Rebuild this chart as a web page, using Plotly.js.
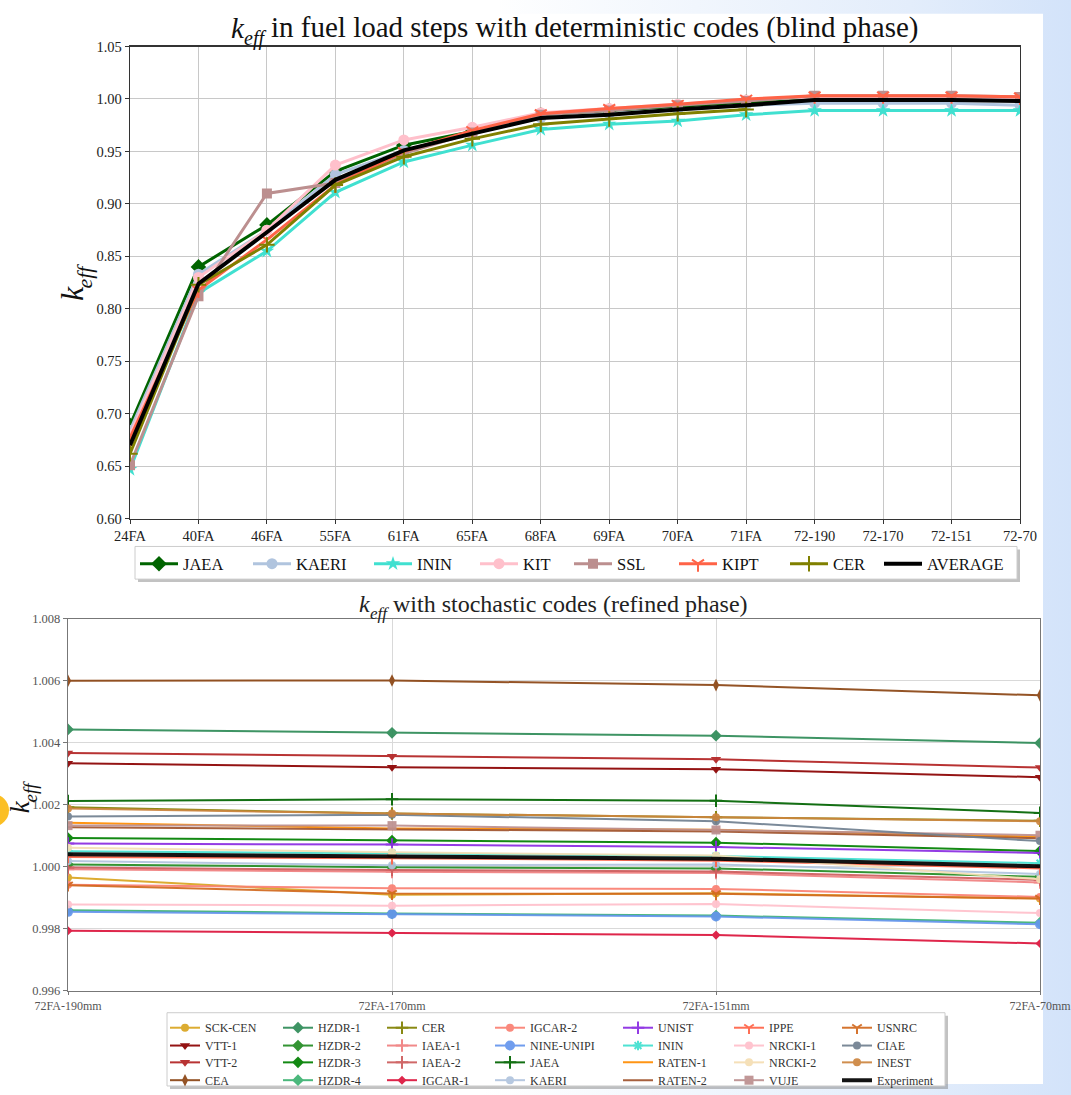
<!DOCTYPE html>
<html><head><meta charset="utf-8">
<script src="https://cdn.plot.ly/plotly-3.0.1.min.js"></script>
<style>
html,body{margin:0;padding:0;}
body{width:1071px;height:1095px;overflow:hidden;background:linear-gradient(to right,#ffffff 0%,#ffffff 45%,#e3edfb 85%,#d3e3fa 100%);}
#chart{width:1071px;height:1095px;}
</style></head><body><div id="chart"></div><script>
// ---------- Deterministic (blind phase) ----------
const detSteps = ['24FA','40FA','46FA','55FA','61FA','65FA','68FA','69FA','70FA','71FA','72-190','72-170','72-151','72-70'];
const detJAEA  = [0.689,0.840,0.880,0.931,0.956,0.969,0.985,0.989,0.993,0.997,1.000,1.000,1.000,0.999];
const detKAERI = [0.684,0.833,0.875,0.928,0.951,0.967,0.982,0.986,0.990,0.994,0.996,0.996,0.996,0.994];
const detININ  = [0.647,0.815,0.855,0.911,0.940,0.956,0.971,0.976,0.979,0.985,0.989,0.989,0.989,0.989];
const detKIT   = [0.680,0.830,0.875,0.937,0.961,0.973,0.987,0.991,0.995,0.999,1.002,1.002,1.002,1.001];
const detSSL   = [0.651,0.812,0.910,0.920,0.948,0.968,0.985,0.989,0.994,0.998,1.003,1.003,1.003,1.002];
const detKIPT  = [0.677,0.818,0.866,0.918,0.950,0.970,0.986,0.991,0.995,1.000,1.003,1.003,1.003,1.002];
const detCER   = [0.662,0.823,0.861,0.918,0.945,0.962,0.976,0.981,0.986,0.990];
const detAVERAGE = [0.670,0.824,0.873,0.923,0.951,0.967,0.982,0.985,0.990,0.994,0.999,0.999,0.999,0.998];

// ---------- Stochastic (refined phase) ----------
const stoSteps = ['72FA-190mm','72FA-170mm','72FA-151mm','72FA-70mm'];
const stoSCKCEN = [0.99966,0.99910,0.99915,0.99898];
const stoVTT1   = [1.00334,1.00321,1.00315,1.00289];
const stoVTT2   = [1.00367,1.00357,1.00347,1.00320];
const stoCEA    = [1.00600,1.00601,1.00586,1.00553];
const stoHZDR1  = [1.00443,1.00432,1.00423,1.00399];
const stoHZDR2  = [1.00008,0.99999,0.99995,0.99968];
const stoHZDR3  = [1.00093,1.00085,1.00078,1.00051];
const stoHZDR4  = [0.99860,0.99850,0.99843,0.99820];
const stoCER    = [1.00192,1.00172,1.00160,1.00149];
const stoIAEA1  = [0.99992,0.99984,0.99980,0.99950];
const stoIAEA2  = [0.99998,0.99990,0.99985,0.99958];
const stoIGCAR1 = [0.99794,0.99787,0.99780,0.99753];
const stoIGCAR2 = [0.99942,0.99931,0.99929,0.99903];
const stoNINEUNIPI = [0.99855,0.99848,0.99840,0.99815];
const stoJAEA   = [1.00212,1.00218,1.00213,1.00174];
const stoKAERI  = [1.00019,1.00005,1.00008,0.99977];
const stoUNIST  = [1.00075,1.00072,1.00064,1.00045];
const stoININ   = [1.00050,1.00044,1.00035,1.00012];
const stoRATEN1 = [1.00142,1.00124,1.00120,1.00097];
const stoRATEN2 = [1.00128,1.00120,1.00114,1.00092];
const stoIPPE   = [1.00032,1.00028,1.00020,0.99995];
const stoNRCKI1 = [0.99879,0.99875,0.99880,0.99851];
const stoNRCKI2 = [1.00062,1.00047,1.00037,0.99960];
const stoVUJE   = [1.00133,1.00133,1.00119,1.00102];
const stoUSNRC  = [0.99941,0.99914,0.99913,0.99898];
const stoCIAE   = [1.00162,1.00168,1.00147,1.00083];
const stoINEST  = [1.00188,1.00172,1.00160,1.00147];
const stoExperiment = [1.00041,1.00033,1.00026,1.00002];

// ---------- helpers / styles ----------
const W = 1071, H = 1095;
const px = x => x / W, py = y => 1 - y / H;
const FONT = 'Liberation Serif, DejaVu Serif, serif';
const openSyms = ['cross-thin-open','y-down-open','asterisk-open'];

const cv = document.createElement('canvas').getContext('2d');
function tw(text, size, italic) {
  cv.font = (italic ? 'italic ' : '') + size + 'px "Liberation Serif"';
  return cv.measureText(text).width;
}
function ann(text, x, y, size, italic, color, xanchor, angle) {
  return {text: text, xref: 'paper', yref: 'paper', x: px(x), y: py(y),
    xanchor: xanchor || 'left', yanchor: 'middle', showarrow: false,
    borderpad: 0, borderwidth: 0, textangle: angle || 0,
    font: {family: FONT, size: size, color: color, style: italic ? 'italic' : 'normal'}};
}
// horizontal title "k_eff + rest" centred at (cx, cy)
function keffTitle(rest, size, cx, cy, color) {
  const sub = Math.round(size * 0.7);
  const wk = tw('k', size, true), we = tw('eff', sub, true), ws = tw(' ', size, false), wr = tw(rest, size, false);
  const x0 = cx - (wk + we + ws + wr) / 2;
  return [
    ann('k', x0, cy, size, true, color),
    ann('eff', x0 + wk, cy + 0.39 * size, sub, true, color),
    ann(rest, x0 + wk + we + ws, cy, size, false, color)
  ];
}
// vertical (rotated) "k_eff" centred at (cx, cy)
function keffVertical(size, cx, cy, color) {
  const sub = Math.round(size * 0.7);
  const wk = tw('k', size, true), we = tw('eff', sub, true);
  const L = wk + we;
  return [
    ann('k', cx, cy + L / 2 - wk / 2, size, true, color, 'center', -90),
    ann('eff', cx + 0.39 * size, cy + L / 2 - wk - we / 2, sub, true, color, 'center', -90)
  ];
}

function mk(name, xs, ys, color, symbol, size, lw, xa, ya, legend, extra) {
  const t = {
    type: 'scatter', name: name, x: xs.slice(0, ys.length), y: ys,
    xaxis: xa, yaxis: ya, legend: legend,
    mode: symbol ? 'lines+markers' : 'lines',
    line: {color: color, width: lw},
    hoverinfo: 'skip'
  };
  if (symbol) {
    const open = openSyms.indexOf(symbol) >= 0;
    t.marker = {symbol: symbol, size: size, color: color,
      line: {width: open ? 2 : 0, color: color}};
  }
  return Object.assign(t, extra || {});
}

const traces = [];
// top chart
const detDefs = [
  ['JAEA', detJAEA, '#006400', 'diamond', 12, 3, 60],
  ['KAERI', detKAERI, '#B0C4DE', 'circle', 11, 3, 68],
  ['ININ', detININ, '#40E0D0', 'star', 11, 3, 53],
  ['KIT', detKIT, '#FFC0CB', 'circle', 11, 3, 41],
  ['SSL', detSSL, '#BC8F8F', 'square', 10, 3, 52],
  ['KIPT', detKIPT, '#FF6347', 'y-down-open', 10, 3, 58],
  ['CER', detCER, '#808000', 'cross-thin-open', 11, 3, 41],
  ['AVERAGE', detAVERAGE, '#000000', null, 0, 4, 90]
];
detDefs.forEach(d => traces.push(mk(d[0], detSteps, d[1], d[2], d[3], d[4], d[5], 'x', 'y', 'legend', {legendwidth: d[6]})));

// bottom chart (legend columns, 4 rows each)
const stoDefs = [
  ['SCK-CEN', stoSCKCEN, '#DAA520', 'circle', 8],
  ['VTT-1', stoVTT1, '#8B0000', 'triangle-down', 9],
  ['VTT-2', stoVTT2, '#B22222', 'triangle-down', 9],
  ['CEA', stoCEA, '#8B4513', 'diamond-tall', 9],
  ['HZDR-1', stoHZDR1, '#2E8B57', 'diamond', 9],
  ['HZDR-2', stoHZDR2, '#228B22', 'diamond', 9],
  ['HZDR-3', stoHZDR3, '#008000', 'diamond', 9],
  ['HZDR-4', stoHZDR4, '#3CB371', 'diamond', 9],
  ['CER', stoCER, '#808000', 'cross-thin-open', 9],
  ['IAEA-1', stoIAEA1, '#F08080', 'cross-thin-open', 9],
  ['IAEA-2', stoIAEA2, '#CD5C5C', 'cross-thin-open', 9],
  ['IGCAR-1', stoIGCAR1, '#DC143C', 'diamond', 7],
  ['IGCAR-2', stoIGCAR2, '#FA8072', 'circle', 8],
  ['NINE-UNIPI', stoNINEUNIPI, '#6495ED', 'circle', 10],
  ['JAEA', stoJAEA, '#006400', 'cross-thin-open', 9],
  ['KAERI', stoKAERI, '#B0C4DE', 'circle', 8],
  ['UNIST', stoUNIST, '#8A2BE2', 'cross-thin-open', 9],
  ['ININ', stoININ, '#40E0D0', 'asterisk-open', 8],
  ['RATEN-1', stoRATEN1, '#FF8C00', null, 0],
  ['RATEN-2', stoRATEN2, '#A0522D', null, 0],
  ['IPPE', stoIPPE, '#FF6347', 'y-down-open', 8],
  ['NRCKI-1', stoNRCKI1, '#FFC0CB', 'circle', 8],
  ['NRCKI-2', stoNRCKI2, '#F5DEB3', 'circle', 8],
  ['VUJE', stoVUJE, '#BC8F8F', 'square', 9],
  ['USNRC', stoUSNRC, '#D2691E', 'y-down-open', 8],
  ['CIAE', stoCIAE, '#708090', 'circle', 8],
  ['INEST', stoINEST, '#CD853F', 'circle', 8],
  ['Experiment', stoExperiment, '#000000', null, 0]
];
const colWidths = [68, 59, 63, 83, 66, 63, 70];
const rowLegends = ['legend2','legend3','legend4','legend5'];
stoDefs.forEach((d, i) => {
  const row = i % 4, col = Math.floor(i / 4);
  const lw = d[0] === 'Experiment' ? 4 : 2;
  traces.push(mk(d[0], stoSteps, d[1], d[2], d[3], d[4], lw, 'x2', 'y2', rowLegends[row],
    {legendrank: col + 1, legendwidth: colWidths[col], opacity: 0.92}));
});

const tickFont = {family: FONT, size: 14.5, color: '#222'};
const smallTickX = {family: FONT, size: 12, color: '#555'};
const smallTickY = {family: FONT, size: 12.5, color: '#555'};

const rowTops = [1023.5, 1041.5, 1058.5, 1076.5];
const legendBase = {orientation: 'h', xanchor: 'left', yanchor: 'top', bgcolor: 'rgba(0,0,0,0)',
  borderwidth: 0, traceorder: 'normal', itemclick: false, itemdoubleclick: false};

const annotations = []
  .concat(keffTitle('in fuel load steps with deterministic codes (blind phase)', 29, 575, 28, '#111'))
  .concat(keffTitle('with stochastic codes (refined phase)', 24, 553, 610, '#222'))
  .concat(keffVertical(32, 72, 286, '#111'))
  .concat(keffVertical(27, 20, 806, '#111'));

const layout = {
  width: W, height: H,
  margin: {l: 0, r: 0, t: 0, b: 0},
  paper_bgcolor: 'rgba(0,0,0,0)',
  plot_bgcolor: '#ffffff',
  showlegend: true,
  font: {family: FONT, color: '#222'},
  xaxis: {domain: [px(130), px(1020)], anchor: 'y', type: 'category', range: [0, 13],
    showgrid: true, gridcolor: '#c8c8c8', gridwidth: 1, showline: true, mirror: true,
    linecolor: '#333', linewidth: 1.3, ticks: 'outside', ticklen: 4, tickcolor: '#333',
    tickfont: tickFont, zeroline: false, fixedrange: true},
  yaxis: {domain: [py(524), py(47)], anchor: 'x', range: [0.60, 1.05], dtick: 0.05, tickformat: '.2f',
    showgrid: true, gridcolor: '#c8c8c8', gridwidth: 1, showline: true, mirror: true,
    linecolor: '#333', linewidth: 1.3, ticks: 'outside', ticklen: 4, tickcolor: '#333',
    tickfont: tickFont, zeroline: false, fixedrange: true},
  xaxis2: {domain: [px(68), px(1040)], anchor: 'y2', type: 'category', range: [0, 3],
    showgrid: true, gridcolor: '#d9d9d9', gridwidth: 1, showline: true, mirror: true,
    linecolor: '#777', linewidth: 1.2, ticks: 'outside', ticklen: 3, tickcolor: '#777',
    tickfont: smallTickX, zeroline: false, fixedrange: true},
  yaxis2: {domain: [py(1001), py(625)], anchor: 'x2', range: [0.996, 1.008], dtick: 0.002, tickformat: '.3f',
    showgrid: true, gridcolor: '#d9d9d9', gridwidth: 1, showline: true, mirror: true,
    linecolor: '#777', linewidth: 1.2, ticks: 'outside', ticklen: 4, tickcolor: '#777',
    tickfont: smallTickY, zeroline: false, fixedrange: true},
  legend: Object.assign({}, legendBase, {x: px(135), y: py(552), itemwidth: 38, font: {family: FONT, size: 16.5, color: '#111'}}),
  shapes: [
    {type: 'rect', xref: 'paper', yref: 'paper', x0: 0, x1: px(1043), y0: 0, y1: py(14), fillcolor: '#ffffff', line: {width: 0}, layer: 'below'},
    {type: 'rect', xref: 'paper', yref: 'paper', x0: 0, x1: px(500), y0: py(14), y1: 1, fillcolor: '#ffffff', line: {width: 0}, layer: 'below'},
    {type: 'circle', xref: 'paper', yref: 'paper', x0: px(-24), x1: px(9), y0: py(835), y1: py(802), fillcolor: '#FBBF24', line: {width: 0}, layer: 'above'},
    // top legend frame
    {type: 'rect', xref: 'paper', yref: 'paper', x0: px(138), x1: px(1020), y0: py(588), y1: py(555), fillcolor: 'rgba(120,120,120,0.45)', line: {width: 0}, layer: 'above'},
    {type: 'rect', xref: 'paper', yref: 'paper', x0: px(135), x1: px(1017), y0: py(585), y1: py(552), fillcolor: '#ffffff', line: {width: 1, color: '#cccccc'}, layer: 'above'},
    // bottom legend frame
    {type: 'rect', xref: 'paper', yref: 'paper', x0: px(170), x1: px(948), y0: py(1100), y1: py(1026), fillcolor: 'rgba(120,120,120,0.45)', line: {width: 0}, layer: 'above'},
    {type: 'rect', xref: 'paper', yref: 'paper', x0: px(167), x1: px(945), y0: py(1097), y1: py(1023), fillcolor: '#ffffff', line: {width: 1, color: '#cccccc'}, layer: 'above'}
  ],
  annotations: annotations
};
rowLegends.forEach((ln, r) => {
  layout[ln] = Object.assign({}, legendBase, {x: px(165), y: py(rowTops[r]), font: {family: FONT, size: 12, color: '#333'}});
});

Plotly.newPlot('chart', traces, layout, {staticPlot: true, displayModeBar: false});
</script></body></html>
